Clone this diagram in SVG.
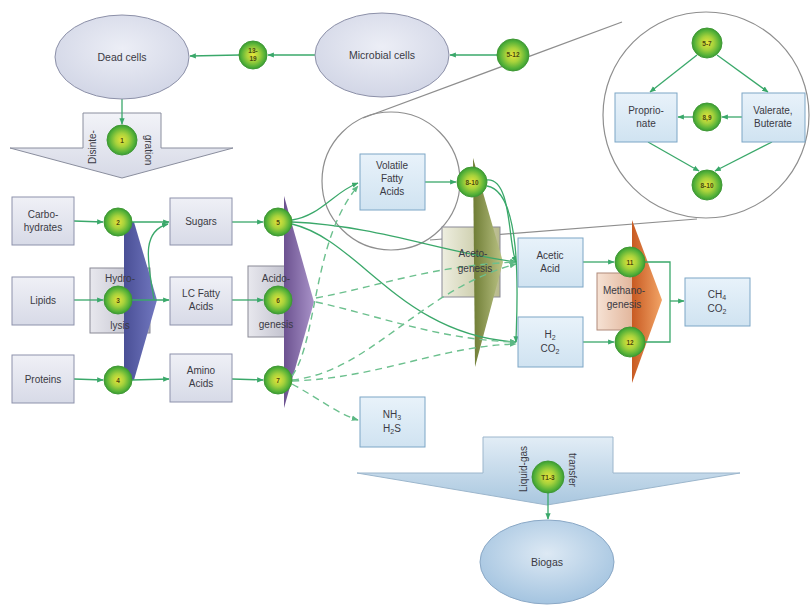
<svg xmlns="http://www.w3.org/2000/svg" width="810" height="606" viewBox="0 0 810 606">
<defs>
<radialGradient id="gc" cx="50%" cy="50%" r="50%">
<stop offset="0" stop-color="#e8e43a"/><stop offset="0.45" stop-color="#a6d23c"/><stop offset="0.85" stop-color="#52b038"/><stop offset="1" stop-color="#3e9a30"/>
</radialGradient>
<linearGradient id="gGray" x1="0" y1="0" x2="0" y2="1"><stop offset="0" stop-color="#eff0f6"/><stop offset="1" stop-color="#d7dae7"/></linearGradient>
<linearGradient id="gBlue" x1="0" y1="0" x2="0" y2="1"><stop offset="0" stop-color="#e8f2fa"/><stop offset="1" stop-color="#d0e3f1"/></linearGradient>
<linearGradient id="gProc" x1="0" y1="0" x2="1" y2="0"><stop offset="0" stop-color="#e8e8ee"/><stop offset="1" stop-color="#b4b4c2"/></linearGradient>
<linearGradient id="gHyd" x1="0" y1="0" x2="1" y2="0"><stop offset="0" stop-color="#4a4f96"/><stop offset="1" stop-color="#7278c0"/></linearGradient>
<linearGradient id="gAci" x1="0" y1="0" x2="1" y2="0"><stop offset="0" stop-color="#6c5290"/><stop offset="1" stop-color="#a892c8"/></linearGradient>
<linearGradient id="gAceB" x1="0" y1="0" x2="1" y2="0"><stop offset="0" stop-color="#eeeee0"/><stop offset="1" stop-color="#b8ba8c"/></linearGradient>
<linearGradient id="gAce" x1="0" y1="0" x2="1" y2="0"><stop offset="0" stop-color="#6e7c34"/><stop offset="1" stop-color="#bcc486"/></linearGradient>
<linearGradient id="gMetB" x1="0" y1="0" x2="1" y2="0"><stop offset="0" stop-color="#f6e2d4"/><stop offset="1" stop-color="#d8a080"/></linearGradient>
<linearGradient id="gMet" x1="0" y1="0" x2="1" y2="0"><stop offset="0" stop-color="#c85a22"/><stop offset="1" stop-color="#f2a466"/></linearGradient>
<linearGradient id="gDis" x1="0" y1="0" x2="0" y2="1"><stop offset="0" stop-color="#f2f3f8"/><stop offset="1" stop-color="#d6d9e6"/></linearGradient>
<linearGradient id="gLiq" x1="0" y1="0" x2="0" y2="1"><stop offset="0" stop-color="#e2edf6"/><stop offset="1" stop-color="#a9c7df"/></linearGradient>
<radialGradient id="gBio" cx="50%" cy="40%" r="60%"><stop offset="0" stop-color="#dde9f4"/><stop offset="1" stop-color="#a4c4e0"/></radialGradient>
<radialGradient id="gEll" cx="50%" cy="40%" r="60%"><stop offset="0" stop-color="#eceef6"/><stop offset="1" stop-color="#d2d6e6"/></radialGradient>
<marker id="ah" viewBox="0 0 10 10" refX="9" refY="5" markerWidth="5" markerHeight="5" orient="auto"><path d="M0,1 L10,5 L0,9 Z" fill="#3aa86a"/></marker>
<marker id="ahd" viewBox="0 0 10 10" refX="9" refY="5" markerWidth="5" markerHeight="5" orient="auto"><path d="M0,1 L10,5 L0,9 Z" fill="#5cb884"/></marker>
</defs>
<style>
text{font-family:"Liberation Sans",Arial,sans-serif;fill:#3a3a44;text-anchor:middle}
.t{font-size:10px}
.tb{font-size:10.5px}
.tn{font-size:6.5px;font-weight:bold;fill:#4a4a10}
.bg{fill:url(#gGray);stroke:#8d92ab;stroke-width:1}
.bb{fill:url(#gBlue);stroke:#7da6c6;stroke-width:1}
.c{fill:url(#gc);stroke:#3f9a36;stroke-width:1}
.ln{fill:none;stroke:#3aa86a;stroke-width:1.3;marker-end:url(#ah)}
.lp{fill:none;stroke:#3aa86a;stroke-width:1.3}
.ld{fill:none;stroke:#6cc08e;stroke-width:1.4;stroke-dasharray:7,5;marker-end:url(#ahd)}
.co{fill:none;stroke:#8e8e8e;stroke-width:1.2}
.pb{stroke:#8a8a96;stroke-width:1}
</style>
<rect width="810" height="606" fill="#ffffff"/>

<g id="callout">
<circle class="co" cx="391" cy="181" r="69"/>
<circle class="co" cx="706" cy="115" r="103"/>
<line class="co" x1="363" y1="118" x2="622" y2="22"/>
<line class="co" x1="430" y1="240" x2="697" y2="219"/>
</g>

<g id="processes">
<g id="disintegration">
<path d="M83,113 H161 V148 H233 L122,178 L10,148 H83 Z" fill="url(#gDis)" stroke="#8a8e9e"/>
<text class="t" transform="translate(96,147) rotate(-90)">Disinte-</text>
<text class="t" transform="translate(145,150) rotate(90)">gration</text>
</g>
<g id="hydrolysis">
<rect x="90" y="268" width="60" height="65" fill="url(#gProc)" class="pb"/>
<polygon points="124,222 134,222 157,300 134,380 124,380" fill="url(#gHyd)"/>
</g>
<g id="acidogenesis">
<rect x="248" y="266" width="52" height="71" fill="url(#gProc)" class="pb"/>
<polygon points="284,196 314,302 284,408" fill="url(#gAci)"/>
</g>
<g id="acetogenesis">
<rect x="442" y="227" width="58" height="70" fill="url(#gAceB)" class="pb"/>
<polygon points="473,158 503,262 475,367" fill="url(#gAce)"/>
</g>
<g id="methanogenesis">
<rect x="597" y="273" width="53" height="57" fill="url(#gMetB)" stroke="#b08a7a"/>
<polygon points="632,220 662,300 632,383" fill="url(#gMet)"/>
</g>
<g id="liquidgas">
<path d="M483,437 H613 V473 H740 L547,505 L357,473 H483 Z" fill="url(#gLiq)" stroke="#9cb6cc"/>
<text class="t" transform="translate(527,469) rotate(-90)">Liquid-gas</text>
<text class="t" transform="translate(569,470) rotate(90)">transfer</text>
</g>
</g>

<g id="connectors">
<line class="ln" x1="497" y1="55" x2="450" y2="55"/>
<line class="ln" x1="315" y1="55" x2="268" y2="55"/>
<line class="ln" x1="239" y1="55" x2="190" y2="56"/>
<line class="ln" x1="122" y1="99" x2="122" y2="124"/>
<line class="ln" x1="74" y1="221" x2="103" y2="222"/>
<line class="ln" x1="132" y1="222" x2="169" y2="222"/>
<line class="ln" x1="74" y1="300" x2="103" y2="300"/>
<line class="ln" x1="132" y1="300" x2="169" y2="300"/>
<line class="ln" x1="74" y1="379" x2="103" y2="380"/>
<line class="ln" x1="132" y1="380" x2="169" y2="379"/>
<path class="ln" d="M154,300 C150,270 138,232 168,224"/>
<line class="ln" x1="232" y1="222" x2="263" y2="222"/>
<line class="ln" x1="232" y1="300" x2="263" y2="300"/>
<line class="ln" x1="232" y1="379" x2="263" y2="380"/>
<path class="ln" d="M292,220 C320,216 334,192 358,183"/>
<path class="ln" d="M292,222 C380,226 440,252 516,262"/>
<path class="ln" d="M292,224 C360,240 400,335 516,342"/>
<path class="ld" d="M292,376 C318,340 312,240 358,186"/>
<path class="ld" d="M316,298 C380,286 430,266 516,262"/>
<path class="ld" d="M316,302 C380,316 440,340 516,342"/>
<path class="ld" d="M292,380 C370,372 420,290 516,264"/>
<path class="ld" d="M292,381 C380,378 440,346 516,344"/>
<path class="ld" d="M292,384 C318,398 338,414 358,420"/>
<line class="ln" x1="425" y1="182" x2="456" y2="182"/>
<path class="ln" d="M487,180 C512,178 508,244 516,262"/>
<path class="ln" d="M487,186 C526,192 516,322 516,342"/>
<line class="ln" x1="583" y1="262" x2="614" y2="262"/>
<line class="ln" x1="583" y1="342" x2="614" y2="342"/>
<path class="lp" d="M645,262 H670 V342 H645"/>
<line class="ln" x1="670" y1="301" x2="684" y2="301"/>
<line class="ln" x1="548" y1="493" x2="548" y2="519"/>
<line class="ln" x1="697" y1="55" x2="650" y2="92"/>
<line class="ln" x1="717" y1="55" x2="768" y2="92"/>
<line class="ln" x1="742" y1="117" x2="722" y2="117"/>
<line class="ln" x1="693" y1="117" x2="678" y2="117"/>
<line class="ln" x1="648" y1="142" x2="699" y2="171"/>
<line class="ln" x1="772" y1="142" x2="715" y2="171"/>
</g>

<g id="dead-cells"><ellipse cx="122" cy="57" rx="67" ry="42" fill="url(#gEll)" stroke="#8c90a8"/><text class="tb" x="122" y="61">Dead cells</text></g>
<g id="microbial-cells"><ellipse cx="382" cy="55" rx="67" ry="42" fill="url(#gEll)" stroke="#8c90a8"/><text class="tb" x="382" y="59">Microbial cells</text></g>
<g id="biogas"><ellipse cx="547" cy="562" rx="67" ry="42" fill="url(#gBio)" stroke="#8aa8c6"/><text class="tb" x="547" y="566">Biogas</text></g>

<g id="carbohydrates"><rect class="bg" x="12" y="197" width="62" height="48"/><text class="t" x="43" y="218">Carbo-</text><text class="t" x="43" y="231">hydrates</text></g>
<g id="lipids"><rect class="bg" x="12" y="277" width="62" height="48"/><text class="t" x="43" y="304">Lipids</text></g>
<g id="proteins"><rect class="bg" x="12" y="355" width="62" height="48"/><text class="t" x="43" y="383">Proteins</text></g>
<g id="sugars"><rect class="bg" x="170" y="198" width="62" height="47"/><text class="t" x="201" y="225">Sugars</text></g>
<g id="lcfa"><rect class="bg" x="170" y="277" width="62" height="48"/><text class="t" x="201" y="297">LC Fatty</text><text class="t" x="201" y="310">Acids</text></g>
<g id="amino-acids"><rect class="bg" x="170" y="354" width="62" height="48"/><text class="t" x="201" y="374">Amino</text><text class="t" x="201" y="387">Acids</text></g>
<g id="vfa"><rect class="bb" x="360" y="154" width="65" height="56"/><text class="t" x="392" y="169">Volatile</text><text class="t" x="392" y="182">Fatty</text><text class="t" x="392" y="195">Acids</text></g>
<g id="acetic-acid"><rect class="bb" x="518" y="238" width="65" height="49"/><text class="t" x="550" y="259">Acetic</text><text class="t" x="550" y="272">Acid</text></g>
<g id="h2-co2"><rect class="bb" x="518" y="317" width="65" height="50"/><text class="t" x="550" y="338">H<tspan font-size="7" dy="2">2</tspan></text><text class="t" x="550" y="352">CO<tspan font-size="7" dy="2">2</tspan></text></g>
<g id="nh3-h2s"><rect class="bb" x="360" y="397" width="65" height="50"/><text class="t" x="392" y="418">NH<tspan font-size="7" dy="2">3</tspan></text><text class="t" x="392" y="432">H<tspan font-size="7" dy="2">2</tspan><tspan dy="-2">S</tspan></text></g>
<g id="ch4-co2"><rect class="bb" x="685" y="278" width="65" height="48"/><text class="t" x="717" y="298">CH<tspan font-size="7" dy="2">4</tspan></text><text class="t" x="717" y="312">CO<tspan font-size="7" dy="2">2</tspan></text></g>
<g id="proprionate"><rect class="bb" x="615" y="93" width="62" height="49"/><text class="t" x="646" y="114">Proprio-</text><text class="t" x="646" y="127">nate</text></g>
<g id="valerate"><rect class="bb" x="742" y="93" width="63" height="49"/><text class="t" x="773" y="114">Valerate,</text><text class="t" x="773" y="127">Buterate</text></g>

<g id="p13-19"><circle class="c" cx="253" cy="55" r="14"/><text class="tn" x="253" y="53">13-</text><text class="tn" x="253" y="61">19</text></g>
<g id="p5-12"><circle class="c" cx="513" cy="55" r="16"/><text class="tn" x="513" y="57">5-12</text></g>
<g id="p1"><circle class="c" cx="122" cy="140" r="15"/><text class="tn" x="122" y="143">1</text></g>
<g id="p2"><circle class="c" cx="118" cy="222" r="14"/><text class="tn" x="118" y="225">2</text></g>
<g id="p3"><circle class="c" cx="118" cy="300" r="14"/><text class="tn" x="118" y="303">3</text></g>
<g id="p4"><circle class="c" cx="118" cy="380" r="14"/><text class="tn" x="118" y="383">4</text></g>
<g id="p5"><circle class="c" cx="278" cy="222" r="14"/><text class="tn" x="278" y="225">5</text></g>
<g id="p6"><circle class="c" cx="278" cy="300" r="14"/><text class="tn" x="278" y="303">6</text></g>
<g id="p7"><circle class="c" cx="278" cy="380" r="14"/><text class="tn" x="278" y="383">7</text></g>
<g id="p8-10"><circle class="c" cx="472" cy="182" r="15"/><text class="tn" x="472" y="185">8-10</text></g>
<g id="p11"><circle class="c" cx="630" cy="262" r="15"/><text class="tn" x="630" y="265">11</text></g>
<g id="p12"><circle class="c" cx="630" cy="342" r="15"/><text class="tn" x="630" y="345">12</text></g>
<g id="pT1-3"><circle class="c" cx="548" cy="477" r="16"/><text class="tn" x="548" y="480">T1-3</text></g>
<g id="i5-7"><circle class="c" cx="707" cy="43" r="15"/><text class="tn" x="707" y="46">5-7</text></g>
<g id="i8-9"><circle class="c" cx="707" cy="117" r="14"/><text class="tn" x="707" y="120">8,9</text></g>
<g id="i8-10"><circle class="c" cx="707" cy="185" r="15"/><text class="tn" x="707" y="188">8-10</text></g>

<g id="process-labels">
<text class="t" x="120" y="282">Hydro-</text>
<text class="t" x="120" y="329">lysis</text>
<text class="t" x="276" y="282">Acido-</text>
<text class="t" x="276" y="328">genesis</text>
<text class="t" x="473" y="257">Aceto-</text>
<text class="t" x="475" y="272">genesis</text>
<text class="t" x="624" y="294">Methano-</text>
<text class="t" x="624" y="308">genesis</text>
</g>
</svg>
